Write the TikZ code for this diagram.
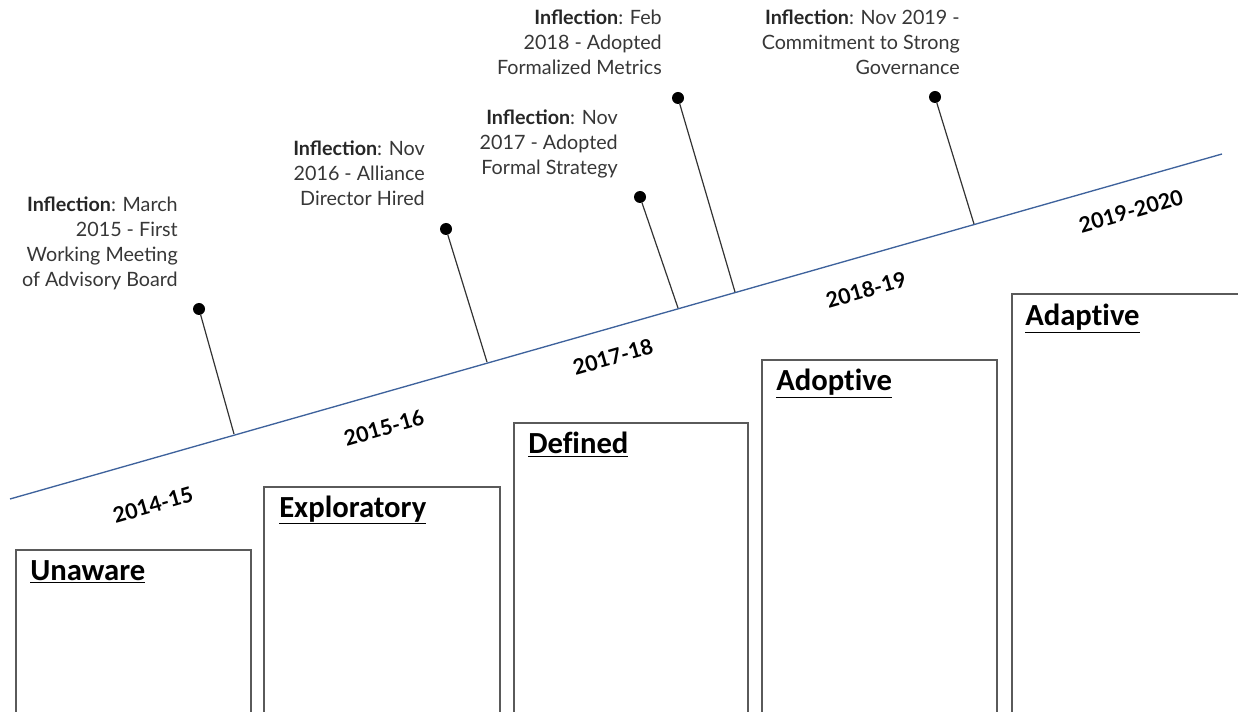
\documentclass[tikz,border=0pt]{standalone}
\usepackage{fontspec}
\setmainfont{Lato}
\newfontfamily\stagefont[Ligatures=NoCommon]{Carlito}
\usetikzlibrary{positioning}

\definecolor{lineblue}{RGB}{62,98,156}
\definecolor{notegray}{RGB}{55,55,55}
\definecolor{boxgray}{RGB}{90,90,90}
\newcommand{\inflection}[1]{\textbf{\color{black!85}Inflection}: #1}

\begin{document}
\begin{tikzpicture}[x=0.75pt,y=-0.75pt]
  \tikzset{
    note/.style={align=right,anchor=north east,inner sep=0pt,text=notegray,
      font=\fontsize{14.8}{18.75}\selectfont},
    stagebox/.style={draw=boxgray,line width=1pt},
    stagetitle/.style={anchor=base west,inner sep=0pt,
      font=\stagefont\bfseries\fontsize{23}{27}\selectfont},
    year/.style={rotate=16,inner sep=0pt,
      font=\bfseries\fontsize{16}{19}\selectfont},
    pin/.style={circle,fill=black,inner sep=0pt,minimum size=9pt},
    stem/.style={draw=black!80,line width=0.9pt},
  }
  \useasboundingbox (0,0) rectangle (1238,712);
  \clip (0,0) rectangle (1238,712);

  \draw[stagebox] (16,730) |- (251,550) -- (251,730);
  \draw[stagebox] (264,730) |- (500,487) -- (500,730);
  \draw[stagebox] (514,730) |- (748,423) -- (748,730);
  \draw[stagebox] (762,730) |- (997,360) -- (997,730);
  \draw[stagebox] (1012,730) |- (1245,294);
  \node[stagetitle] (ST-1) at (30,580) {\underline{Unaware}};
  \node[stagetitle] (ST-2) at (279,517) {\underline{Exploratory}};
  \node[stagetitle] (ST-3) at (528,454) {\underline{Defined}};
  \node[stagetitle] (ST-4) at (776,391) {\underline{Adoptive}};
  \node[stagetitle] (ST-5) at (1025,326) {\underline{Adaptive}};

  \coordinate (TL-a) at (10,499);
  \coordinate (TL-b) at (1222,154);
  \draw[lineblue,line width=1pt] (TL-a) -- (TL-b);

  \node[year] (Y-1) at (153,505) {2014-15};
  \node[year] (Y-2) at (384,428) {2015-16};
  \node[year] (Y-3) at (613,357) {2017-18};
  \node[year] (Y-4) at (866,290) {2018-19};
  \node[year] (Y-5) at (1131,211) {2019-2020};

  \node[pin] (P-1) at (199,309) {};
  \node[pin] (P-2) at (446,229) {};
  \node[pin] (P-3) at (640,197) {};
  \node[pin] (P-4) at (678,98) {};
  \node[pin] (P-5) at (935,97) {};
  \coordinate (T-1) at (234,434);
  \coordinate (T-2) at (487,362);
  \coordinate (T-3) at (678,308);
  \coordinate (T-4) at (735,292);
  \coordinate (T-5) at (974,224);
  \foreach \i in {1,...,5}
    \draw[stem] (P-\i) -- (T-\i);

  \node[note] (N-1) at (178,197) {\inflection{March}\\2015 - First\\Working Meeting\\of Advisory Board};
  \node[note] (N-2) at (425,141) {\inflection{Nov}\\2016 - Alliance\\Director Hired};
  \node[note] (N-3) at (618,110) {\inflection{Nov}\\2017 - Adopted\\Formal Strategy};
  \node[note] (N-4) at (662,10) {\inflection{Feb}\\2018 - Adopted\\Formalized Metrics};
  \node[note] (N-5) at (960,10) {\inflection{Nov 2019 -}\\Commitment to Strong\\Governance};
\end{tikzpicture}
\end{document}
